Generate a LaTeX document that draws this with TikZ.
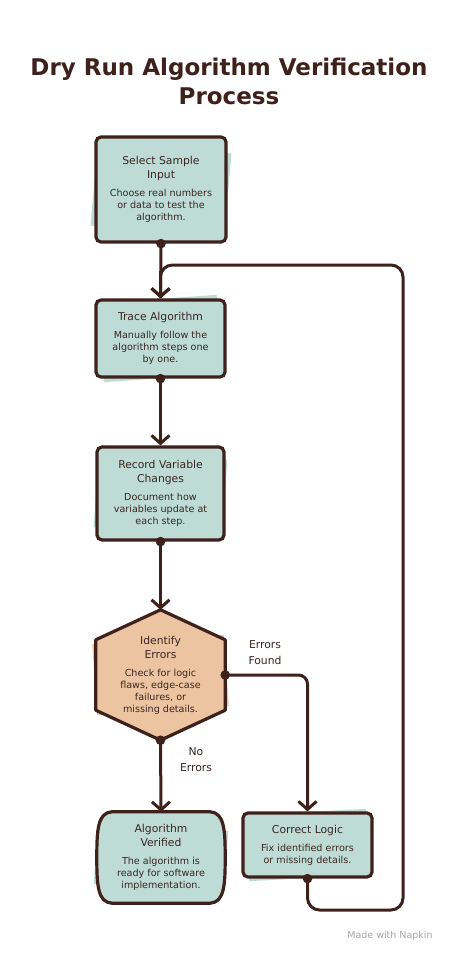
\documentclass[tikz,border=0pt]{standalone}
\usepackage{fontspec}
\setmainfont{DejaVu Sans}
\usetikzlibrary{arrows.meta,calc,backgrounds}
\definecolor{ink}{HTML}{3F211C}
\definecolor{sage}{HTML}{BEDBD5}
\definecolor{peach}{HTML}{EDC4A2}
\definecolor{txt}{HTML}{3A2622}
\def\tsz{\fontsize{10.8}{13}\selectfont}
\def\dsz{\fontsize{9.6}{13}\selectfont}
% tilted colour patch behind a node
\def\patch[#1](#2)(#3)(#4,#5){\fill[#1, rotate around={#3:(#2.center)}] ($(#2.north west)+(#4,#5)$) rectangle ($(#2.south east)+(-#4,-#5)$);}

\begin{document}
\begin{tikzpicture}[x=1pt,y=-1pt,
  stepbox/.style={draw=ink, line width=3.2pt, fill=sage, rounded corners=5pt,
    align=center, text=txt, inner sep=0pt},
  bare/.style={align=center, text=txt, inner sep=0pt},
  outline/.style={draw=ink, line width=3.2pt, line join=round},
  flow/.style={draw=ink, line width=3pt, line cap=round,
    -{Straight Barb[length=8pt,width=18pt]}},
  lbl/.style={align=center, text=txt, font=\fontsize{10.8}{16}\selectfont}]

  %%%%% canvas %%%%%
  \begin{scope}[on background layer]
    \fill[white] (0,0) rectangle (467,961);
  \end{scope}
  \useasboundingbox (0,0) rectangle (467,961);

  \node[text=ink, align=center, font=\bfseries\fontsize{23}{29}\selectfont] (title) at (229,81) {Dry Run Algorithm Verification\\Process};

  %%%%% steps %%%%%
  \node[stepbox, minimum width=130pt, minimum height=105pt] (select) at (161,189.5) {\tsz Select Sample\\[2pt]\tsz Input\\[6pt]\dsz Choose real numbers\\\dsz or data to test the\\\dsz algorithm.};
  \node[stepbox, minimum width=129pt, minimum height=77pt] (trace) at (160.5,338.5) {\tsz Trace Algorithm\\[6pt]\dsz Manually follow the\\\dsz algorithm steps one\\\dsz by one.};
  \node[stepbox, minimum width=127pt, minimum height=93pt] (record) at (160.5,493.5) {\tsz Record Variable\\[2pt]\tsz Changes\\[6pt]\dsz Document how\\\dsz variables update at\\\dsz each step.};
  \node[bare, minimum width=129pt, minimum height=130pt] (errors) at (160.5,675) {\tsz Identify\\[2pt]\tsz Errors\\[6pt]\dsz Check for logic\\\dsz flaws, edge-case\\\dsz failures, or\\\dsz missing details.};
  \node[bare, minimum width=128pt, minimum height=91pt] (verified) at (161,857.5) {\tsz Algorithm\\[2pt]\tsz Verified\\[6pt]\dsz The algorithm is\\\dsz ready for software\\\dsz implementation.};
  \node[stepbox, minimum width=129pt, minimum height=64pt] (fix) at (307.5,845) {\tsz Correct Logic\\[6pt]\dsz Fix identified errors\\\dsz or missing details.};

  % sketchy fill patches, hexagon and barrel outlines
  \begin{scope}[on background layer]
    \patch[sage](select)(-5)(4,6)
    \patch[sage](trace)(4)(4,5)
    \patch[sage](record)(-4)(4,5)
    \patch[peach](errors)(4)(-6,34)
    \patch[sage](verified)(-4)(2,10)
    \patch[sage](fix)(3)(4,4)
    \filldraw[outline, fill=peach] (errors.north)
      -- ($(errors.north east)!.23!(errors.south east)$)
      -- ($(errors.north east)!.77!(errors.south east)$)
      -- (errors.south)
      -- ($(errors.north west)!.77!(errors.south west)$)
      -- ($(errors.north west)!.23!(errors.south west)$) -- cycle;
    \filldraw[outline, fill=sage] ($(verified.north west)+(15,0)$)
      -- ($(verified.north east)+(-15,0)$)
      .. controls ($(verified.north east)+(-1,1)$) and ($(verified.east)+(0,-28)$) .. (verified.east)
      .. controls ($(verified.east)+(0,28)$) and ($(verified.south east)+(-1,-1)$) .. ($(verified.south east)+(-15,0)$)
      -- ($(verified.south west)+(15,0)$)
      .. controls ($(verified.south west)+(1,-1)$) and ($(verified.west)+(0,28)$) .. (verified.west)
      .. controls ($(verified.west)+(0,-28)$) and ($(verified.north west)+(1,1)$) .. cycle;
  \end{scope}

  %%%%% connectors %%%%%
  \coordinate (loopbot) at (403,910);
  \coordinate (looptop) at (403,265);

  \draw[flow] (select.south) -- (trace.north);
  \draw[flow] (trace.south) -- (record.north);
  \draw[flow] (record.south) -- (errors.north);
  \draw[flow, rounded corners=9pt] (errors.east) -| (fix.north);
  \draw[flow] (errors.south) -- (verified.north);
  \draw[flow, rounded corners=12pt] (fix.south) |- (loopbot) -- (looptop) -| (trace.north);

  \foreach \d in {select.south, trace.south, record.south, errors.east, errors.south, fix.south}
    \fill[ink] (\d) circle (4.8pt);

  \node[lbl] (foundlbl) at (265,653) {Errors\\Found};
  \node[lbl] (nolbl) at (196,760) {No\\Errors};

  \node[text=black!35, font=\fontsize{9.5}{10}\selectfont] (napkin) at (390,936) {Made with Napkin};

\end{tikzpicture}
\end{document}
